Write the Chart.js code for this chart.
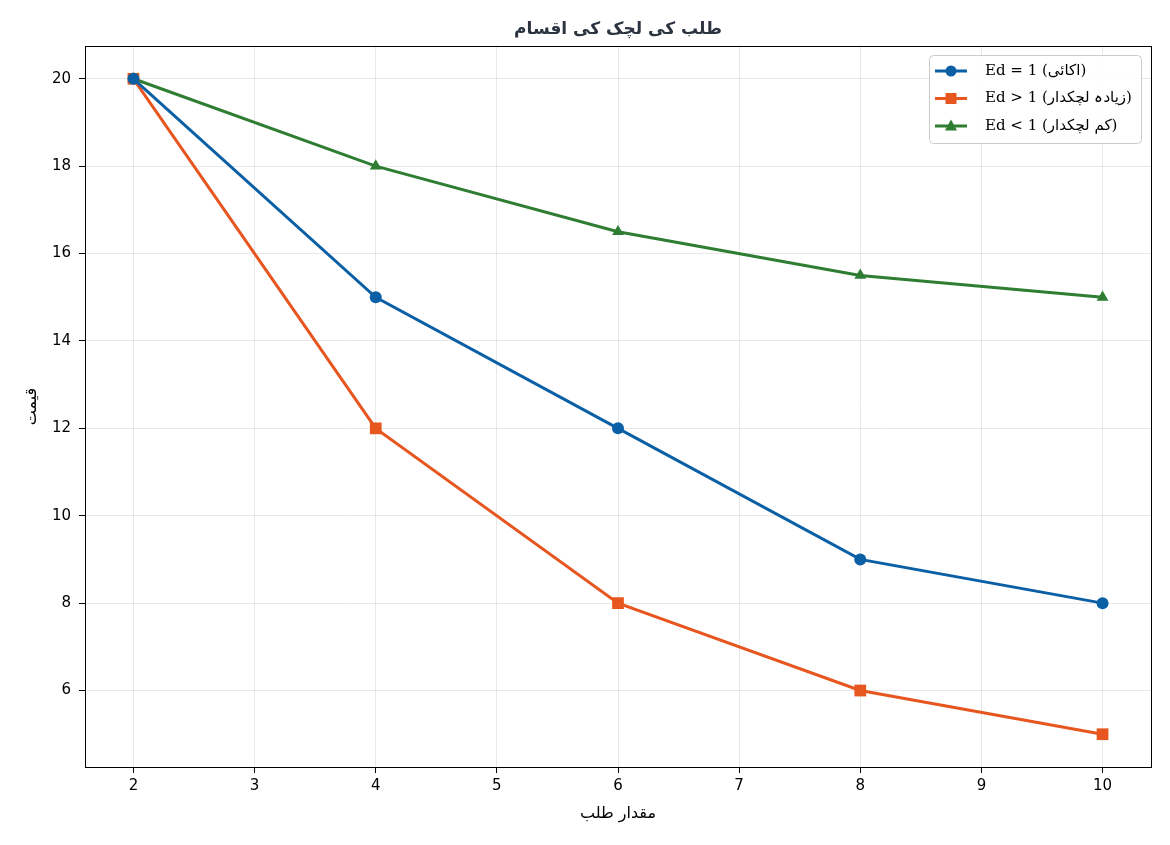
<!DOCTYPE html>
<html>
<head>
<meta charset="utf-8">
<script src="https://cdn.jsdelivr.net/npm/chart.js@4/dist/chart.umd.min.js"></script>
<style>
  html, body { margin: 0; padding: 0; background: #fff; }
  #wrap { width: 1170px; height: 845px; }
</style>
</head>
<body>
<div id="wrap"><canvas id="chartElasticity" width="1170" height="845"></canvas></div>
<script>
'use strict'

// data
var quantity = [2, 4, 6, 8, 10];
var unitElastic = [20, 15, 12, 9, 8];
var moreElastic = [20, 12, 8, 6, 5];
var lessElastic = [20, 18, 16.5, 15.5, 15];
var xTicks = [2, 3, 4, 5, 6, 7, 8, 9, 10];
var yTicks = [6, 8, 10, 12, 14, 16, 18, 20];

var chartTitle = 'طلب کی لچک کی اقسام';
var seriesLabels = ['Ed = 1 (اکائی)', 'Ed > 1 (زیادہ لچکدار)', 'Ed < 1 (کم لچکدار)'];
var seriesColors = ['#0b5fa5', '#e8561f', '#2e7d32'];
var seriesMarkers = ['circle', 'rect', 'triangle'];
var markerRadius = [6, 8.3, 6.8];

function toPoints(ys) {
    return quantity.map(function (x, i) { return { x: x, y: ys[i] }; });
}

function makeSet(idx, ys) {
    return {
        label: seriesLabels[idx],
        data: toPoints(ys),
        borderColor: seriesColors[idx],
        backgroundColor: seriesColors[idx],
        borderWidth: 3,
        pointStyle: seriesMarkers[idx],
        pointRadius: markerRadius[idx],
        pointBorderWidth: 0,
        tension: 0,
        fill: false
    };
}

// black frame round the plot area + title centred on it
var frame = {
    id: 'frame',
    afterDatasetsDraw: function (chart) {
        var a = chart.chartArea, ctx = chart.ctx;
        ctx.save();
        ctx.strokeStyle = '#000';
        ctx.lineWidth = 1;
        ctx.strokeRect(Math.round(a.left) + 0.5, Math.round(a.top) + 0.5, Math.round(a.right - a.left), Math.round(a.bottom - a.top));
        ctx.fillStyle = '#2c3440';
        ctx.font = 'bold 17px "DejaVu Sans", sans-serif';
        ctx.textAlign = 'center';
        ctx.textBaseline = 'middle';
        ctx.fillText(chartTitle, (a.left + a.right) / 2, 30);
        ctx.restore();
    }
};

function drawMarker(ctx, style, x, y) {
    ctx.beginPath();
    if (style === 'circle') {
        ctx.arc(x, y, 5.5, 0, Math.PI * 2);
    } else if (style === 'rect') {
        ctx.rect(x - 5.5, y - 5.5, 11, 11);
    } else {
        ctx.moveTo(x, y - 6.5);
        ctx.lineTo(x + 6, y + 4.5);
        ctx.lineTo(x - 6, y + 4.5);
        ctx.closePath();
    }
    ctx.fill();
}

// legend box in the upper right corner
var boxLegend = {
    id: 'boxLegend',
    afterDraw: function (chart) {
        var a = chart.chartArea, ctx = chart.ctx;
        var w = 212, h = 88;
        var x0 = a.right - 10 - w, y0 = a.top + 9;
        ctx.save();
        ctx.fillStyle = 'rgba(255,255,255,0.85)';
        ctx.strokeStyle = '#cccccc';
        ctx.lineWidth = 1;
        ctx.beginPath();
        ctx.roundRect(x0 + 0.5, y0 + 0.5, w, h, 4);
        ctx.fill();
        ctx.stroke();
        chart.data.datasets.forEach(function (ds, i) {
            var cy = y0 + 16 + i * 27.5;
            ctx.strokeStyle = ds.borderColor;
            ctx.fillStyle = ds.borderColor;
            ctx.lineWidth = 3;
            ctx.beginPath();
            ctx.moveTo(x0 + 6, cy);
            ctx.lineTo(x0 + 38, cy);
            ctx.stroke();
            drawMarker(ctx, ds.pointStyle, x0 + 22, cy);
            ctx.fillStyle = '#000';
            ctx.font = '15px "DejaVu Serif", "DejaVu Sans", serif';
            ctx.textBaseline = 'middle';
            ctx.textAlign = 'left';
            ctx.fillText(ds.label, x0 + 56, cy);
        });
        ctx.restore();
    }
};

var ctx = document.getElementById('chartElasticity');
var lineChart = new Chart(ctx, {
    type: 'line',
    data: {
        datasets: [
            makeSet(0, unitElastic),
            makeSet(1, moreElastic),
            makeSet(2, lessElastic)
        ]
    },
    plugins: [frame, boxLegend],
    options: {
        responsive: false,
        animation: false,
        layout: { padding: { left: 0, right: 19, top: 46, bottom: 0 } },
        plugins: {
            legend: { display: false },
            tooltip: { enabled: false },
            title: { display: false }
        },
        scales: {
            x: {
                type: 'linear',
                min: 1.6,
                max: 10.4,
                afterFit: function (s) { s.height = 78; },
                afterBuildTicks: function (s) { s.ticks = xTicks.map(function (v) { return { value: v }; }); },
                ticks: { color: '#000', font: { family: '"DejaVu Sans", sans-serif', size: 15 }, padding: 4, maxRotation: 0 },
                grid: { color: 'rgba(0,0,0,0.09)', tickColor: '#000', tickLength: 6, drawTicks: true },
                border: { display: false },
                title: {
                    display: true,
                    text: 'مقدار طلب',
                    color: '#000',
                    font: { family: '"DejaVu Sans", sans-serif', size: 16, lineHeight: 1.2 },
                    padding: 22
                }
            },
            y: {
                type: 'linear',
                min: 4.25,
                max: 20.75,
                afterFit: function (s) { s.width = 85; },
                afterBuildTicks: function (s) { s.ticks = yTicks.map(function (v) { return { value: v }; }); },
                ticks: { color: '#000', font: { family: '"DejaVu Sans", sans-serif', size: 15 }, padding: 8 },
                grid: { color: 'rgba(0,0,0,0.09)', tickColor: '#000', tickLength: 6, drawTicks: true },
                border: { display: false },
                title: {
                    display: true,
                    text: 'قیمت',
                    color: '#000',
                    font: { family: '"DejaVu Sans", sans-serif', size: 16, lineHeight: 1.2 },
                    padding: 22
                }
            }
        }
    }
});
</script>
</body>
</html>
